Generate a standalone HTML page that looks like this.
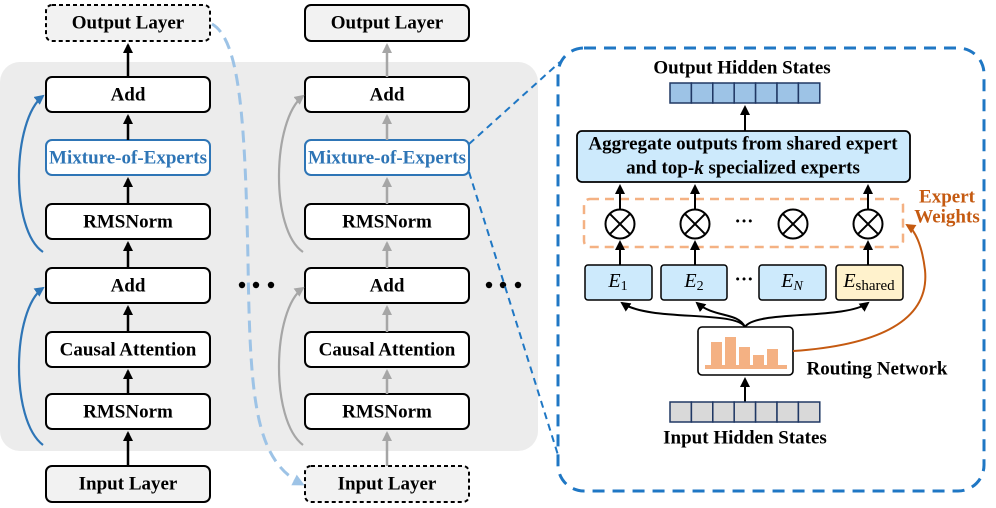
<!DOCTYPE html>
<html><head><meta charset="utf-8"><style>
body{margin:0;background:#fff}
svg{display:block}
text{font-family:"Liberation Serif",serif;font-weight:bold;font-size:19px;text-anchor:middle;dominant-baseline:central}
</style></head><body>
<svg width="996" height="508" viewBox="0 0 996 508" xmlns="http://www.w3.org/2000/svg">
<defs>
<marker id="ab" markerWidth="10" markerHeight="10" refX="8" refY="5" orient="auto" markerUnits="userSpaceOnUse"><path d="M0,0 L10,5 L0,10 Z" fill="#000"/></marker>
<marker id="ag" markerWidth="10" markerHeight="10" refX="8" refY="5" orient="auto" markerUnits="userSpaceOnUse"><path d="M0,0 L10,5 L0,10 Z" fill="#a6a6a6"/></marker>
<marker id="abl" markerWidth="10" markerHeight="10" refX="8" refY="5" orient="auto" markerUnits="userSpaceOnUse"><path d="M0,0 L10,5 L0,10 Z" fill="#2e75b6"/></marker>
<marker id="alb" markerWidth="12" markerHeight="12" refX="9" refY="6" orient="auto" markerUnits="userSpaceOnUse"><path d="M0,0 L12,6 L0,12 Z" fill="#9dc3e6"/></marker>
<marker id="ao" markerWidth="10" markerHeight="10" refX="8" refY="5" orient="auto" markerUnits="userSpaceOnUse"><path d="M0,0 L10,5 L0,10 Z" fill="#c55a11"/></marker>
</defs>
<rect x="0" y="62" width="538" height="389" rx="20" fill="#ececec"/>

<g stroke="#000" stroke-width="2">
<rect x="46" y="5" width="164" height="36" rx="6" fill="#f2f2f2" stroke-dasharray="4,3"/>
<rect x="46" y="77" width="164" height="35" rx="6" fill="#fff"/>
<rect x="46" y="140" width="164" height="35" rx="6" fill="#fff" stroke="#2e75b6"/>
<rect x="46" y="204" width="164" height="35" rx="6" fill="#fff"/>
<rect x="46" y="268" width="164" height="35" rx="6" fill="#fff"/>
<rect x="46" y="332" width="164" height="35" rx="6" fill="#fff"/>
<rect x="46" y="394" width="164" height="35" rx="6" fill="#fff"/>
<rect x="46" y="466" width="164" height="36" rx="6" fill="#f2f2f2"/>
</g>
<g stroke="#000" stroke-width="2.5">
<line x1="128" y1="77" x2="128" y2="45" marker-end="url(#ab)"/>
<line x1="128" y1="140" x2="128" y2="116" marker-end="url(#ab)"/>
<line x1="128" y1="204" x2="128" y2="179" marker-end="url(#ab)"/>
<line x1="128" y1="268" x2="128" y2="243" marker-end="url(#ab)"/>
<line x1="128" y1="332" x2="128" y2="307" marker-end="url(#ab)"/>
<line x1="128" y1="394" x2="128" y2="371" marker-end="url(#ab)"/>
<line x1="128" y1="466" x2="128" y2="433" marker-end="url(#ab)"/>
</g>
<g fill="none" stroke="#2e75b6" stroke-width="2.2">
<path d="M43,252 C10,230 12,120 43,96" marker-end="url(#abl)"/>
<path d="M43,445 C10,420 12,310 43,288" marker-end="url(#abl)"/>
</g>
<text x="128" y="23">Output Layer</text>
<text x="128" y="95">Add</text>
<text x="128" y="158" fill="#2e75b6">Mixture-of-Experts</text>
<text x="128" y="222">RMSNorm</text>
<text x="128" y="286">Add</text>
<text x="128" y="350">Causal Attention</text>
<text x="128" y="412">RMSNorm</text>
<text x="128" y="484">Input Layer</text>

<g stroke="#000" stroke-width="2">
<rect x="305" y="5" width="164" height="36" rx="6" fill="#f2f2f2"/>
<rect x="305" y="77" width="164" height="35" rx="6" fill="#fff"/>
<rect x="305" y="140" width="164" height="35" rx="6" fill="#fff" stroke="#2e75b6"/>
<rect x="305" y="204" width="164" height="35" rx="6" fill="#fff"/>
<rect x="305" y="268" width="164" height="35" rx="6" fill="#fff"/>
<rect x="305" y="332" width="164" height="35" rx="6" fill="#fff"/>
<rect x="305" y="394" width="164" height="35" rx="6" fill="#fff"/>
<rect x="305" y="466" width="164" height="36" rx="6" fill="#f2f2f2" stroke-dasharray="4,3"/>
</g>
<g stroke="#a6a6a6" stroke-width="2.5">
<line x1="387" y1="77" x2="387" y2="45" marker-end="url(#ag)"/>
<line x1="387" y1="140" x2="387" y2="116" marker-end="url(#ag)"/>
<line x1="387" y1="204" x2="387" y2="179" marker-end="url(#ag)"/>
<line x1="387" y1="268" x2="387" y2="243" marker-end="url(#ag)"/>
<line x1="387" y1="332" x2="387" y2="307" marker-end="url(#ag)"/>
<line x1="387" y1="394" x2="387" y2="371" marker-end="url(#ag)"/>
<line x1="387" y1="466" x2="387" y2="433" marker-end="url(#ag)"/>
</g>
<g fill="none" stroke="#a6a6a6" stroke-width="2.2">
<path d="M303,252 C270,230 272,120 303,96" marker-end="url(#ag)"/>
<path d="M303,445 C270,420 272,310 303,288" marker-end="url(#ag)"/>
</g>
<text x="387" y="23">Output Layer</text>
<text x="387" y="95">Add</text>
<text x="387" y="158" fill="#2e75b6">Mixture-of-Experts</text>
<text x="387" y="222">RMSNorm</text>
<text x="387" y="286">Add</text>
<text x="387" y="350">Causal Attention</text>
<text x="387" y="412">RMSNorm</text>
<text x="387" y="484">Input Layer</text>

<g fill="#000">
<circle cx="242" cy="285" r="3.2"/><circle cx="256" cy="285" r="3.2"/><circle cx="271" cy="285" r="3.2"/>
<circle cx="489" cy="285" r="3.2"/><circle cx="503" cy="285" r="3.2"/><circle cx="518" cy="285" r="3.2"/>
</g>

<path d="M212,24 C240,40 245,120 248,260 C250,400 255,460 302,484" fill="none" stroke="#9dc3e6" stroke-width="3" stroke-dasharray="12,7" marker-end="url(#alb)"/>

<g stroke="#1f77c4" stroke-width="2" stroke-dasharray="7,5" fill="none">
<line x1="469" y1="144" x2="560" y2="62"/>
<line x1="469" y1="172" x2="558" y2="455"/>
</g>
<rect x="558" y="48" width="426" height="443" rx="26" fill="none" stroke="#1f77c4" stroke-width="3" stroke-dasharray="12,8"/>

<text x="742" y="68">Output Hidden States</text>
<g stroke="#203864" stroke-width="1.5" fill="#9dc3e6">
<rect x="670" y="83" width="21.4" height="20"/><rect x="691.4" y="83" width="21.4" height="20"/><rect x="712.8" y="83" width="21.4" height="20"/><rect x="734.2" y="83" width="21.4" height="20"/><rect x="755.6" y="83" width="21.4" height="20"/><rect x="777" y="83" width="21.4" height="20"/><rect x="798.4" y="83" width="21.4" height="20"/>
</g>
<line x1="745" y1="131" x2="745" y2="107" stroke="#000" stroke-width="2" marker-end="url(#ab)"/>
<rect x="577" y="131" width="333" height="51" rx="5" fill="#cdeafc" stroke="#000" stroke-width="1.8"/>
<text x="743" y="144" font-size="18.5">Aggregate outputs from shared expert</text>
<text x="743" y="168" font-size="18.5">and top-<tspan font-style="italic">k</tspan> specialized experts</text>

<rect x="584" y="199" width="319" height="48" rx="6" fill="none" stroke="#f4b183" stroke-width="2.5" stroke-dasharray="9,6"/>
<text x="947" y="197" fill="#c55a11" font-size="18">Expert</text>
<text x="947" y="217" fill="#c55a11" font-size="18">Weights</text>

<g stroke="#000" stroke-width="2" fill="#fff">
<g transform="translate(620,224)"><circle r="14.5"/><path d="M-10.2,-10.2 L10.2,10.2 M-10.2,10.2 L10.2,-10.2"/></g>
<g transform="translate(695,224)"><circle r="14.5"/><path d="M-10.2,-10.2 L10.2,10.2 M-10.2,10.2 L10.2,-10.2"/></g>
<g transform="translate(793,224)"><circle r="14.5"/><path d="M-10.2,-10.2 L10.2,10.2 M-10.2,10.2 L10.2,-10.2"/></g>
<g transform="translate(868,224)"><circle r="14.5"/><path d="M-10.2,-10.2 L10.2,10.2 M-10.2,10.2 L10.2,-10.2"/></g>
</g>
<text x="744" y="222">···</text>
<g stroke="#000" stroke-width="2">
<line x1="620" y1="209" x2="620" y2="186" marker-end="url(#ab)"/>
<line x1="695" y1="209" x2="695" y2="186" marker-end="url(#ab)"/>
<line x1="868" y1="209" x2="868" y2="186" marker-end="url(#ab)"/>
<line x1="620" y1="265" x2="620" y2="242" marker-end="url(#ab)"/>
<line x1="695" y1="265" x2="695" y2="242" marker-end="url(#ab)"/>
<line x1="868" y1="265" x2="868" y2="242" marker-end="url(#ab)"/>
</g>

<g stroke="#000" stroke-width="1.5">
<rect x="585" y="265" width="67" height="35" rx="3" fill="#cdeafc"/>
<rect x="661" y="265" width="66" height="35" rx="3" fill="#cdeafc"/>
<rect x="759" y="265" width="67" height="35" rx="3" fill="#cdeafc"/>
<rect x="836" y="265" width="67" height="35" rx="3" fill="#fff2cc"/>
</g>
<text x="618" y="281" style="font-weight:normal;font-size:20px"><tspan font-style="italic">E</tspan><tspan font-size="14" dy="5">1</tspan></text>
<text x="694" y="281" style="font-weight:normal;font-size:20px"><tspan font-style="italic">E</tspan><tspan font-size="14" dy="5">2</tspan></text>
<text x="792" y="281" style="font-weight:normal;font-size:20px"><tspan font-style="italic">E</tspan><tspan font-size="14" dy="5" font-style="italic">N</tspan></text>
<text x="869" y="281" style="font-weight:normal;font-size:20px"><tspan font-style="italic">E</tspan><tspan font-size="15" dy="5">shared</tspan></text>
<text x="744" y="280">···</text>

<g fill="none" stroke="#000" stroke-width="2">
<path d="M745,327 C735,310 650,322 622,303" marker-end="url(#ab)"/>
<path d="M745,327 C738,312 715,318 697,303" marker-end="url(#ab)"/>
<path d="M745,327 C755,310 845,320 868,303" marker-end="url(#ab)"/>
</g>
<rect x="698" y="327" width="95" height="48" rx="4" fill="#fff" stroke="#000" stroke-width="1.6"/>
<g fill="#f4b183">
<rect x="705" y="365" width="82" height="4"/>
<rect x="711" y="342" width="11" height="25"/>
<rect x="725" y="337" width="11" height="30"/>
<rect x="739" y="347" width="11" height="20"/>
<rect x="753" y="355" width="11" height="12"/>
<rect x="767" y="349" width="11" height="18"/>
</g>
<path d="M793,351 C880,345 930,320 925,270 C922,245 915,230 907,225" fill="none" stroke="#c55a11" stroke-width="2" marker-end="url(#ao)"/>
<text x="877" y="369" font-size="17.5">Routing Network</text>

<line x1="745" y1="402" x2="745" y2="379" stroke="#000" stroke-width="2" marker-end="url(#ab)"/>
<g stroke="#203864" stroke-width="1.5" fill="#d9d9d9">
<rect x="670" y="402" width="21.4" height="20"/><rect x="691.4" y="402" width="21.4" height="20"/><rect x="712.8" y="402" width="21.4" height="20"/><rect x="734.2" y="402" width="21.4" height="20"/><rect x="755.6" y="402" width="21.4" height="20"/><rect x="777" y="402" width="21.4" height="20"/><rect x="798.4" y="402" width="21.4" height="20"/>
</g>
<text x="745" y="438">Input Hidden States</text>
</svg>
</body></html>
